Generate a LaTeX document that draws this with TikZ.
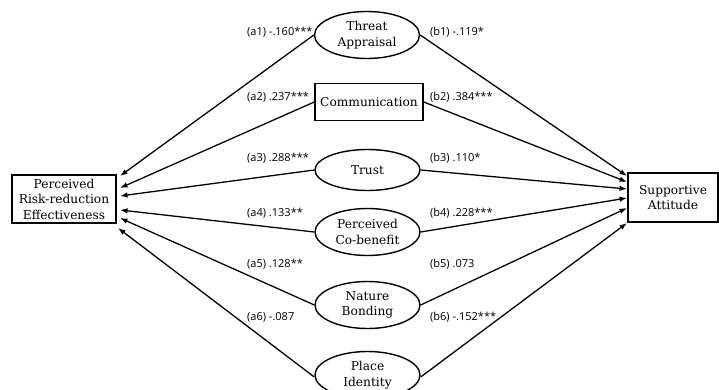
\documentclass[tikz,border=0pt]{standalone}
\usepackage{fontspec}
\setmainfont{DejaVu Serif}
\newfontfamily\labfont{Open Sans}
\usetikzlibrary{shapes.geometric,arrows.meta}
\begin{document}
\begin{tikzpicture}[x=1pt,y=-1pt,
  every node/.style={font=\fontsize{12.2}{15.5}\selectfont, align=center},
  boxnode/.style={draw, line width=1.5pt, rectangle, inner sep=0pt},
  ellnode/.style={draw, line width=1.4pt, ellipse, inner sep=0pt, minimum width=105pt, minimum height=47pt},
  labnode/.style={font=\labfont\fontsize{11}{13}\selectfont, anchor=west, inner sep=0pt},
  arr/.style={line width=1.3pt, -{Latex[length=7.5pt,width=5.5pt]}}]
\useasboundingbox (0,0) rectangle (719,390);
\clip (0,0) rectangle (719,390);
% main boxes
\node[boxnode, minimum width=104pt, minimum height=48pt] (L) at (64,199) {Perceived\\Risk-reduction\\Effectiveness};
\node[boxnode, minimum width=90pt, minimum height=49pt] (R) at (673,197.5) {Supportive\\Attitude};
% mediators
\node[ellnode] (M1) at (367,35) {Threat\\Appraisal};
\node[boxnode, minimum width=108pt, minimum height=37pt] (M2) at (369,102) {Communication};
\node[ellnode, minimum height=41pt] (M3) at (367.5,170) {Trust};
\node[ellnode] (M4) at (367.5,232) {Perceived\\Co-benefit};
\node[ellnode] (M5) at (367.5,305) {Nature\\Bonding};
\node[ellnode] (M6) at (367.5,375) {Place\\Identity};
% arrow targets
\coordinate (la1) at (120,176);
\coordinate (la2) at (120,188);
\coordinate (la3) at (120,196);
\coordinate (la4) at (120,210);
\coordinate (la5) at (120,218);
\coordinate (la6) at (118,228);
\coordinate (rb1) at (627,176);
\coordinate (rb2) at (627,182);
\coordinate (rb3) at (627,189);
\coordinate (rb4) at (627,198);
\coordinate (rb5) at (627,208);
\coordinate (rb6) at (627,223);
% connectors
\draw[arr] (M1.west) -- (la1);
\draw[arr] (M2.west) -- (la2);
\draw[arr] (M3.west) -- (la3);
\draw[arr] (M4.west) -- (la4);
\draw[arr] (M5.west) -- (la5);
\draw[arr] ([yshift=-2pt]M6.west) -- (la6);
\draw[arr] (M1.east) -- (rb1);
\draw[arr] (M2.east) -- (rb2);
\draw[arr] (M3.east) -- (rb3);
\draw[arr] (M4.east) -- (rb4);
\draw[arr] (M5.east) -- (rb5);
\draw[arr] ([yshift=-2pt]M6.east) -- (rb6);
% labels
\node[labnode] (a1) at (247,32) {(a1) -.160***};
\node[labnode] (a2) at (247,97) {(a2) .237***};
\node[labnode] (a3) at (247,158) {(a3) .288***};
\node[labnode] (a4) at (247,213) {(a4) .133**};
\node[labnode] (a5) at (247,264) {(a5) .128**};
\node[labnode] (a6) at (247,317) {(a6) -.087};
\node[labnode] (b1) at (430,32) {(b1) -.119*};
\node[labnode] (b2) at (430,97) {(b2) .384***};
\node[labnode] (b3) at (430,158) {(b3) .110*};
\node[labnode] (b4) at (430,213) {(b4) .228***};
\node[labnode] (b5) at (430,264) {(b5) .073};
\node[labnode] (b6) at (430,317) {(b6) -.152***};
\end{tikzpicture}
\end{document}
